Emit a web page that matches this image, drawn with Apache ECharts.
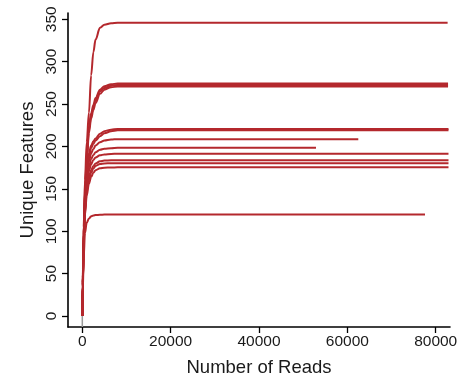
<!DOCTYPE html>
<html>
<head>
<meta charset="utf-8">
<script src="https://cdn.jsdelivr.net/npm/echarts@6/dist/echarts.min.js"></script>
<style>
  html, body { margin: 0; padding: 0; background: #fff; }
  #chart { width: 461px; height: 382px; }
</style>
</head>
<body>
<div id="chart"></div>
<script>
// Rarefaction curves: unique features observed vs. number of reads sampled.
// Shared subsampling depths for the rising part of each curve.
const depths = [0, 100, 300, 600, 1000, 1500, 2000, 2500, 3000, 4000, 5000, 6500, 8000];

// Features observed at each depth, one array per sample.
const s01 = [0, 45, 105, 160, 205, 240, 284, 311, 326, 340, 343.5, 345.3, 346];
const s02 = [0, 40, 98, 148, 188, 224, 239, 249, 257, 267, 271, 273.3, 274.3];
const s03 = [0, 40, 96, 146, 185, 220, 236, 246, 254, 265, 269, 271.6, 272.5];
const s04 = [0, 39, 95, 144, 182, 216, 233, 243, 251, 262, 267, 269.8, 270.7];
const s05 = [0, 38, 92, 138, 172, 192, 201, 206, 209.5, 215, 218, 219.8, 220.6];
const s06 = [0, 37, 90, 135, 168, 188, 198, 203, 207, 212, 215.5, 218, 219];
const s07 = [0, 37, 90, 132, 164, 182, 192, 197, 201, 205, 207, 208.2, 208.6];
const s08 = [0, 36, 88, 129, 159, 176, 185, 190, 193, 196, 197.3, 198, 198.4];
const s09 = [0, 36, 87, 127, 155, 171, 179, 184, 187, 189.5, 190.6, 191.2, 191.5];
const s10 = [0, 35, 85, 124, 149, 164, 172, 177, 180, 182.5, 183.3, 183.7, 183.8];
const s11 = [0, 35, 84, 122, 147, 161, 169, 174, 177, 179.2, 179.9, 180.2, 180.3];
const s12 = [0, 34, 83, 119, 142, 156, 164, 169, 172, 174.2, 174.9, 175.2, 175.3];
const s13 = [0, 28, 68, 98, 110, 115, 117.5, 118.5, 119, 119.4, 119.6, 119.7, 119.8];

const sampleCurves = [s01, s02, s03, s04, s05, s06, s07, s08, s09, s10, s11, s12, s13];
// Total reads per sample (where each curve stops).
const sampleDepths = [82700, 82800, 82800, 82800, 82900, 82900, 62480, 52900, 82900, 82900, 82900, 82900, 77580];

// Axis ticks.
const xTicks = [0, 20000, 40000, 60000, 80000];
const yTicks = [0, 50, 100, 150, 200, 250, 300, 350];

// Short grey drop at zero reads.
const zeroDrop = [[0, 0], [0, -13]];

const lineColor = '#b4282d';
const font = '"Liberation Sans", Arial, sans-serif';

const series = sampleCurves.map((vals, i) => {
  const pts = depths.map((d, j) => [d, vals[j]]);
  pts.push([sampleDepths[i], vals[vals.length - 1]]);
  return {
    type: 'line',
    data: pts,
    showSymbol: false,
    smooth: 0.35,
    smoothMonotone: 'x',
    lineStyle: { color: lineColor, width: 2 },
    silent: true,
    z: 3
  };
});
series.unshift({
  type: 'line',
  data: zeroDrop,
  showSymbol: false,
  lineStyle: { color: '#9a9a9a', width: 1.5 },
  silent: true,
  z: 2
});

const chart = echarts.init(document.getElementById('chart'), null, { renderer: 'canvas' });
chart.setOption({
  animation: false,
  backgroundColor: '#ffffff',
  grid: { left: 68, right: 11, top: 13, bottom: 55, containLabel: false, outerBoundsMode: 'none' },
  xAxis: {
    type: 'value',
    min: -3240,
    max: 83240,
    name: 'Number of Reads',
    nameLocation: 'middle',
    nameGap: 31,
    nameMoveOverlap: false,
    nameTextStyle: { fontFamily: font, fontSize: 18.5, color: '#1a1a1a' },
    axisLine: { show: true, onZero: false, lineStyle: { color: '#000', width: 1.6 } },
    axisTick: { show: true, length: 6, customValues: xTicks, lineStyle: { color: '#000', width: 1.3 } },
    axisLabel: {
      customValues: xTicks, margin: 7, fontFamily: font, fontSize: 15.5, color: '#1a1a1a',
      formatter: v => String(v)
    },
    splitLine: { show: false }
  },
  yAxis: {
    type: 'value',
    min: -13,
    max: 357.4,
    name: 'Unique Features',
    nameLocation: 'middle',
    nameGap: 31,
    nameMoveOverlap: false,
    nameTextStyle: { fontFamily: font, fontSize: 18.5, color: '#1a1a1a' },
    axisLine: { show: true, onZero: false, lineStyle: { color: '#000', width: 1.6 } },
    axisTick: { show: true, length: 6, customValues: yTicks, lineStyle: { color: '#000', width: 1.3 } },
    axisLabel: {
      customValues: yTicks, rotate: 90, margin: 8, fontFamily: font, fontSize: 15.5, color: '#1a1a1a',
      formatter: v => String(v)
    },
    splitLine: { show: false }
  },
  series: series
});
</script>
</body>
</html>
